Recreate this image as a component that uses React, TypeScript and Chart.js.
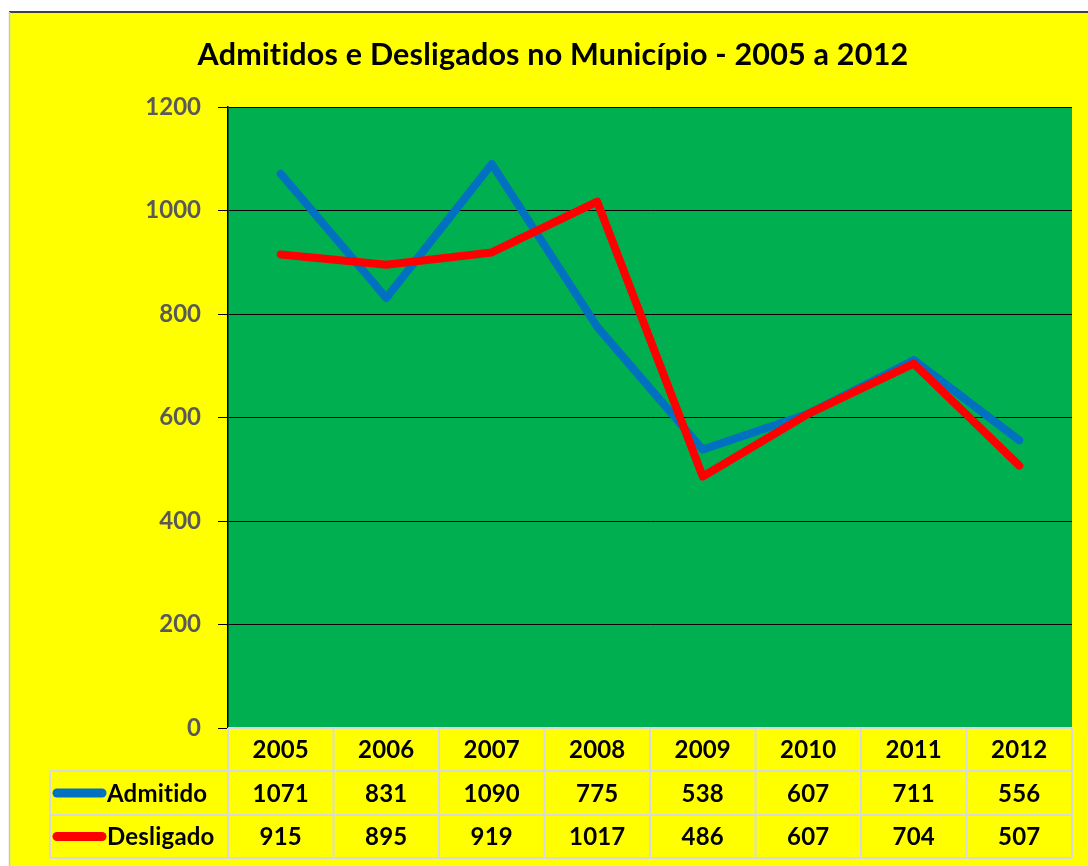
import React, { useEffect, useRef } from "react";
import { Chart, registerables } from "chart.js";

Chart.register(...registerables);

const years = ["2005", "2006", "2007", "2008", "2009", "2010", "2011", "2012"];
const admitido = [1071, 831, 1090, 775, 538, 607, 711, 556];
const desligado = [915, 895, 919, 1017, 486, 607, 704, 507];
const seriesNames = ["Admitido", "Desligado"];
const titleText = "Admitidos e Desligados no Município - 2005 a 2012";

const FONT = "Lato, 'Open Sans', sans-serif";
const BLUE = "#0070C0";
const RED = "#FF0000";

const bgPlugin = {
  id: "bgPlugin",
  beforeDraw(chart: any) {
    const { ctx, width, height, chartArea } = chart;
    ctx.save();
    ctx.fillStyle = "#ffffff";
    ctx.fillRect(0, 0, width, height);
    ctx.fillStyle = "#FFFF00";
    ctx.fillRect(10, 13, width - 10, height - 13);
    ctx.strokeStyle = "#000000";
    ctx.lineWidth = 1.5;
    ctx.beginPath();
    ctx.moveTo(9, 12);
    ctx.lineTo(width, 12);
    ctx.stroke();
    ctx.strokeStyle = "#c8c8c8";
    ctx.lineWidth = 1.5;
    ctx.beginPath();
    ctx.moveTo(9.5, 12);
    ctx.lineTo(9.5, height);
    ctx.stroke();
    ctx.fillStyle = "#00B050";
    ctx.fillRect(chartArea.left, chartArea.top, chartArea.right - chartArea.left, chartArea.bottom - chartArea.top);
    // title
    ctx.fillStyle = "#000000";
    ctx.font = `bold 30.5px ${FONT}`;
    (ctx as any).letterSpacing = "0.2px";
    ctx.textAlign = "center";
    ctx.textBaseline = "middle";
    ctx.fillText(titleText, 553, 55);
    ctx.restore();
  },
};

const tablePlugin = {
  id: "tablePlugin",
  afterDraw(chart: any) {
    const { ctx, chartArea } = chart;
    const x = chart.scales.x;
    const colW = x.getPixelForValue(1) - x.getPixelForValue(0);
    const r0 = chartArea.bottom;
    const rows = [r0, r0 + 43, r0 + 87, r0 + 130];
    const labelLeft = 50;
    ctx.save();
    ctx.strokeStyle = "#D9D9D9";
    ctx.lineWidth = 2;
    ctx.beginPath();
    ctx.moveTo(chartArea.left, rows[0]);
    ctx.lineTo(chartArea.right, rows[0]);
    for (let r = 1; r < 4; r++) {
      ctx.moveTo(labelLeft, rows[r]);
      ctx.lineTo(chartArea.right, rows[r]);
    }
    ctx.moveTo(labelLeft, rows[1]);
    ctx.lineTo(labelLeft, rows[3]);
    for (let i = 0; i <= years.length; i++) {
      const bx = x.getPixelForValue(0) - colW / 2 + i * colW;
      ctx.moveTo(bx, rows[0]);
      ctx.lineTo(bx, rows[3]);
    }
    ctx.stroke();

    ctx.fillStyle = "#000000";
    ctx.font = `bold 24px ${FONT}`;
    (ctx as any).letterSpacing = "0.2px";
    ctx.textAlign = "center";
    ctx.textBaseline = "middle";
    const data = [admitido, desligado];
    years.forEach((y, i) => {
      const cx = x.getPixelForValue(i);
      ctx.fillText(y, cx, (rows[0] + rows[1]) / 2 + 1);
      data.forEach((d, k) => {
        ctx.fillText(String(d[i]), cx, (rows[k + 1] + rows[k + 2]) / 2 + 1);
      });
    });
    const colors = [BLUE, RED];
    seriesNames.forEach((name, k) => {
      const cy = (rows[k + 1] + rows[k + 2]) / 2;
      ctx.strokeStyle = colors[k];
      ctx.lineWidth = 9;
      ctx.lineCap = "round";
      ctx.beginPath();
      ctx.moveTo(57, cy);
      ctx.lineTo(102, cy);
      ctx.stroke();
      ctx.textAlign = "left";
      ctx.fillStyle = "#000000";
      ctx.fillText(name, 107, cy + 1);
    });
    ctx.restore();
  },
};

export default function App() {
  const ref = useRef<HTMLCanvasElement | null>(null);
  useEffect(() => {
    if (!ref.current) return;
    const chart = new Chart(ref.current, {
      type: "line",
      data: {
        labels: years,
        datasets: [
          {
            label: seriesNames[0],
            data: admitido,
            borderColor: BLUE,
            backgroundColor: BLUE,
            borderWidth: 8,
            pointRadius: 0,
            tension: 0,
            borderCapStyle: "round",
            borderJoinStyle: "round",
            order: 1,
          },
          {
            label: seriesNames[1],
            data: desligado,
            borderColor: RED,
            backgroundColor: RED,
            borderWidth: 8,
            pointRadius: 0,
            tension: 0,
            borderCapStyle: "round",
            borderJoinStyle: "round",
            order: 0,
          },
        ],
      },
      options: {
        responsive: false,
        animation: false,
        layout: { padding: { left: 34, right: 16, top: 107, bottom: 138 } },
        plugins: {
          legend: { display: false },
          tooltip: { enabled: false },
          title: { display: false },
        },
        scales: {
          x: { display: false, offset: true },
          y: {
            min: 0,
            max: 1200,
            ticks: {
              stepSize: 200,
              color: "#595959",
              font: { family: FONT, size: 24, weight: "bold" },
              padding: 17,
              callback: (v: any) => String(v),
            },
            grid: {
              color: "#000000",
              lineWidth: 1,
              drawTicks: true,
              tickLength: 10,
              tickColor: "#000000",
            },
            border: { display: true, color: "#000000", width: 1.5 },
            afterFit: (scale: any) => {
              scale.width = 194;
            },
          },
        },
      },
      plugins: [bgPlugin, tablePlugin],
    });
    return () => chart.destroy();
  }, []);
  return (
    <div style={{ position: "absolute", left: 0, top: 0, width: 1088, height: 866 }}>
      <canvas ref={ref} width={1088} height={866} style={{ display: "block" }} />
    </div>
  );
}
